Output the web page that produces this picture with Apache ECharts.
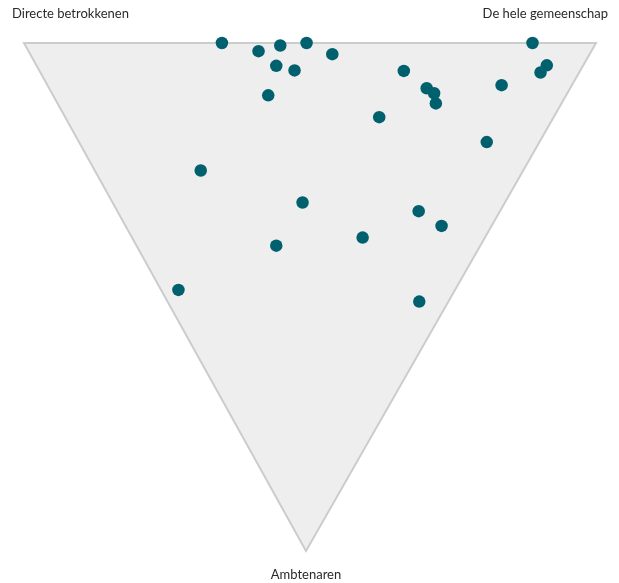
<!DOCTYPE html>
<html>
<head>
<meta charset="utf-8">
<script src="https://cdn.jsdelivr.net/npm/echarts@6/dist/echarts.min.js"></script>
<style>
html,body{margin:0;padding:0;background:#fff;}
#chart{width:619px;height:583px;}
</style>
</head>
<body>
<div id="chart"></div>
<script>
// Corner labels of the triangle
var cornerLabels = ['Directe betrokkenen', 'De hele gemeenschap', 'Ambtenaren'];
// Triangle corners in chart units (x: left→right 0..100, y: bottom→top 0..100)
var triangleX = [0, 100, 49.3];
var triangleY = [100, 100, 0];
// Point positions (same units)
var pointX = [34.6, 41.0, 44.8, 49.4, 53.9, 44.1, 47.3, 42.7, 66.4, 70.4, 71.7, 72.0, 62.1,
              83.5, 88.9, 91.4, 90.3, 80.9, 30.9, 48.7, 44.1, 59.2, 69.0, 73.0, 27.0, 69.1];
var pointY = [100, 98.4, 99.5, 100, 97.8, 95.5, 94.6, 89.7, 94.5, 91.1, 90.1, 88.1, 85.4,
              91.7, 100, 95.6, 94.2, 80.5, 74.9, 68.6, 60.1, 61.7, 66.9, 64.0, 51.4, 49.1];

var points = pointX.map(function (x, i) { return [x, pointY[i]]; });
var triangle = triangleX.map(function (x, i) { return [x, triangleY[i]]; });

var chart = echarts.init(document.getElementById('chart'));
var font = 'Lato, "Open Sans", sans-serif';
chart.setOption({
  animation: false,
  grid: { left: 24, right: 23, top: 43, bottom: 32 },
  xAxis: { type: 'value', min: 0, max: 100, show: false },
  yAxis: { type: 'value', min: 0, max: 100, show: false },
  graphic: [
    { type: 'text', left: 12, top: 7, style: { text: cornerLabels[0], fill: '#2a2a2a', font: '13px ' + font } },
    { type: 'text', right: 11, top: 7, style: { text: cornerLabels[1], fill: '#2a2a2a', font: '13px ' + font } },
    { type: 'text', x: 306, y: 568, style: { text: cornerLabels[2], fill: '#2a2a2a', font: '13px ' + font, textAlign: 'center' } }
  ],
  series: [
    {
      type: 'custom',
      silent: true,
      data: [0],
      renderItem: function (params, api) {
        var pts = triangle.map(function (p) { return api.coord(p); });
        return {
          type: 'polygon',
          shape: { points: pts },
          style: { fill: '#eeeeee', stroke: '#cccccc', lineWidth: 2 }
        };
      },
      z: 1
    },
    {
      type: 'scatter',
      data: points,
      symbolSize: 12.5,
      itemStyle: { color: '#00606e', opacity: 1 },
      z: 5
    }
  ]
});
</script>
</body>
</html>
